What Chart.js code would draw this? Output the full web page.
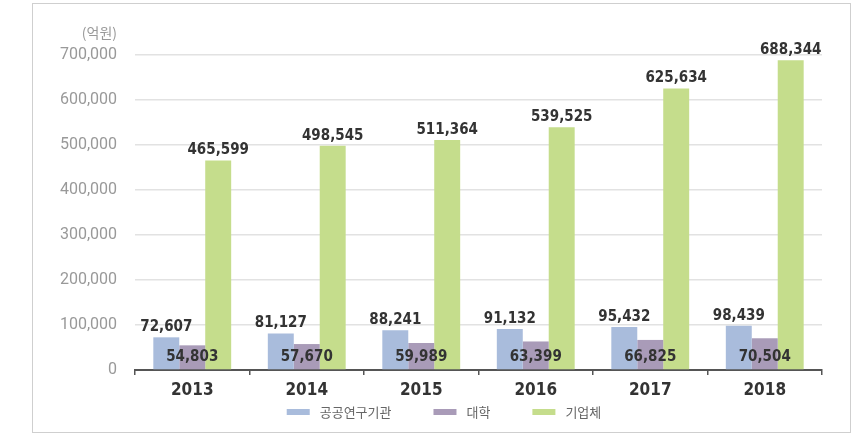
<!DOCTYPE html>
<html>
<head>
<meta charset="utf-8">
<script src="https://cdn.jsdelivr.net/npm/chart.js@4"></script>
<style>
  body { margin: 0; background: #fff; }
  #wrap { position: relative; width: 865px; height: 444px; }
  #frame { position: absolute; left: 32px; top: 3px; width: 817px; height: 428px; border: 1px solid #cfcfcf; pointer-events: none; }
</style>
</head>
<body>
<div id="wrap">
  <canvas id="chart" width="865" height="444"></canvas>
  <div id="frame"></div>
</div>
<script>
let years = ["2013", "2014", "2015", "2016", "2017", "2018"];
let seriesNames = ["공공연구기관", "대학", "기업체"];
let publicInst = [72607, 81127, 88241, 91132, 95432, 98439];
let university = [54803, 57670, 59989, 63399, 66825, 70504];
let company = [465599, 498545, 511364, 539525, 625634, 688344];
let colors = ["#a9bcdc", "#a99bb8", "#c5dd8c"];
let unitLabel = "(억원)";

const numFont = "'DejaVu Sans Condensed', 'Roboto Condensed', sans-serif";

function fmt(v) {
  return v.toLocaleString("en-US");
}

// value labels, unit text and legend
const extras = {
  id: "extras",
  afterDatasetsDraw(chart) {
    const ctx = chart.ctx;
    const base = chart.scales.y.getPixelForValue(0);
    ctx.save();
    ctx.font = "600 15px " + numFont;
    ctx.fillStyle = "#333";
    ctx.textAlign = "center";
    chart.data.datasets.forEach((ds, d) => {
      const meta = chart.getDatasetMeta(d);
      meta.data.forEach((bar, i) => {
        let txt = fmt(ds.data[i]);
        if (d === 1) {
          ctx.textBaseline = "middle";
          ctx.fillText(txt, bar.x, base - 13);
        } else {
          ctx.textBaseline = "alphabetic";
          ctx.fillText(txt, bar.x, bar.y - 6);
        }
      });
    });

    // unit
    ctx.font = "14px 'Noto Sans CJK KR', sans-serif";
    ctx.fillStyle = "#999";
    ctx.textAlign = "right";
    ctx.textBaseline = "middle";
    ctx.fillText(unitLabel, 117, 33);

    // legend
    ctx.font = "13px 'Noto Sans CJK KR', sans-serif";
    ctx.textAlign = "left";
    let boxW = 23, gapText = 10, gapItem = 42;
    let widths = chart.data.datasets.map(ds => boxW + gapText + ctx.measureText(ds.label).width);
    let total = widths.reduce((a, b) => a + b, 0) + gapItem * (widths.length - 1);
    let x = 444 - total / 2;
    let y = 412;
    chart.data.datasets.forEach((ds, d) => {
      ctx.fillStyle = colors[d];
      ctx.fillRect(x, y - 3, boxW, 6);
      ctx.fillStyle = "#666";
      ctx.fillText(ds.label, x + boxW + gapText, y);
      x += widths[d] + gapItem;
    });
    ctx.restore();
  }
};

new Chart(document.getElementById("chart"), {
  type: "bar",
  data: {
    labels: years,
    datasets: [
      { label: seriesNames[0], data: publicInst, backgroundColor: colors[0] },
      { label: seriesNames[1], data: university, backgroundColor: colors[1] },
      { label: seriesNames[2], data: company, backgroundColor: colors[2] },
    ],
  },
  options: {
    responsive: false,
    animation: false,
    layout: { padding: { top: 55, right: 43, left: 0, bottom: 0 } },
    datasets: {
      bar: { categoryPercentage: 0.68, barPercentage: 1 },
    },
    plugins: {
      legend: { display: false },
      title: { display: false },
      tooltip: { enabled: false },
    },
    scales: {
      x: {
        afterFit(scale) { scale.height = 74; },
        grid: { drawOnChartArea: false, offset: true, tickLength: 5, color: "#555", lineWidth: 1.5 },
        border: { color: "#555", width: 2 },
        ticks: { color: "#333", padding: 5, font: { family: numFont, size: 17, weight: "bold" } },
      },
      y: {
        min: 0,
        max: 700000,
        afterFit(scale) { scale.width = 135; },
        grid: { color: "#e2e2e2", lineWidth: 1.5, drawTicks: false },
        border: { display: false },
        ticks: {
          stepSize: 100000,
          padding: 18,
          color: "#999",
          font: { family: "Roboto, sans-serif", size: 16 },
          callback: v => fmt(v),
        },
      },
    },
  },
  plugins: [extras],
});
</script>
</body>
</html>
